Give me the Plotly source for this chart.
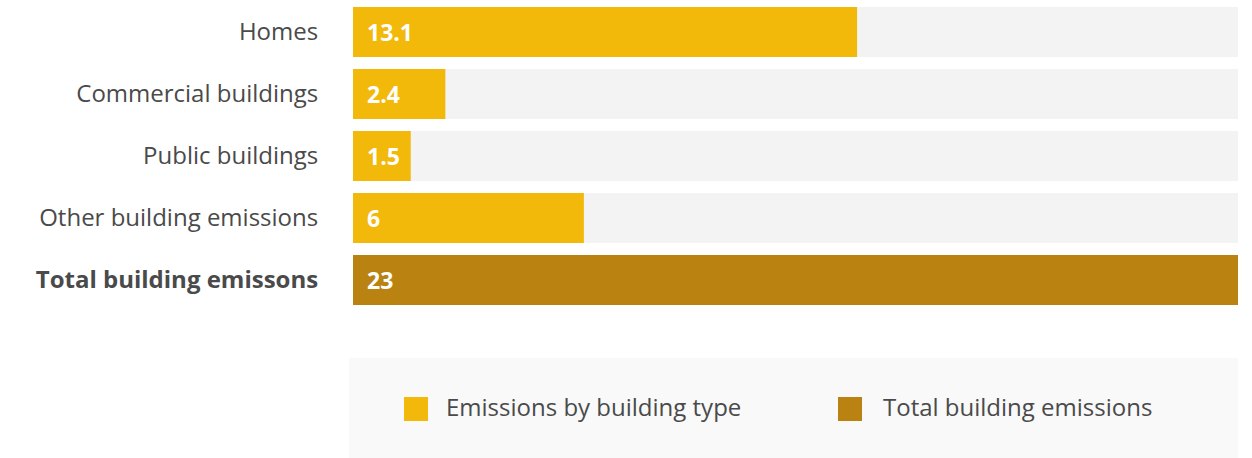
import plotly.graph_objects as go

# Building emissions by type (MtCO2e)
categories = ["Homes", "Commercial buildings", "Public buildings",
              "Other building emissions", "Total building emissons"]
values = [13.1, 2.4, 1.5, 6, 23]
is_total = [False, False, False, False, True]
legend_names = ["Emissions by building type", "Total building emissions"]

YELLOW = "#F2B80A"
BROWN = "#B98211"
TRACK = "#F3F3F3"
TEXT = "#4A4A4A"
FONT = "Open Sans"
SIZE = 24

max_val = max(values)
tick_text = [f"<b>{c}</b>" if t else c for c, t in zip(categories, is_total)]

fig = go.Figure()

# Gray track behind every bar
fig.add_trace(go.Bar(
    y=categories, x=[max_val] * len(categories), orientation="h",
    marker=dict(color=TRACK, line=dict(width=0)),
    hoverinfo="skip", showlegend=False,
))

# Value bars
fig.add_trace(go.Bar(
    y=categories, x=values, orientation="h",
    marker=dict(color=[BROWN if t else YELLOW for t in is_total], line=dict(width=0)),
    showlegend=False,
))

# Value labels at the start of each bar
for c, v in zip(categories, values):
    fig.add_annotation(
        x=0, y=c, xref="x", yref="y", text=f"<b>{v:g}</b>",
        showarrow=False, xanchor="left", xshift=12, yshift=0,
        font=dict(family=FONT, size=23, color="white"),
    )

# Legend panel
W, H = 1252, 458
L, R, T, B = 353, 14, 1, 147
pw, ph = W - L - R, H - T - B


def px_x(x):
    return (x - L) / pw


def px_y(y):
    return 1 - (y - T) / ph


fig.add_shape(type="rect", xref="paper", yref="paper",
              x0=px_x(349), x1=px_x(1238), y0=px_y(458), y1=px_y(358),
              fillcolor="#F9F9F9", line=dict(width=0), layer="below")
for name, color, sx, tx in zip(legend_names, [YELLOW, BROWN], [404, 838], [444, 881]):
    fig.add_shape(type="rect", xref="paper", yref="paper",
                  x0=px_x(sx), x1=px_x(sx + 24), y0=px_y(421), y1=px_y(397),
                  fillcolor=color, line=dict(width=0))
    fig.add_annotation(x=px_x(tx), y=px_y(406.5), xref="paper", yref="paper",
                       text=name, showarrow=False, xanchor="left", yanchor="middle",
                       font=dict(family=FONT, size=SIZE, color=TEXT))

fig.update_layout(
    width=W, height=H,
    margin=dict(l=L, r=R, t=T, b=B, pad=0),
    barmode="overlay", bargap=12 / 62,
    paper_bgcolor="white", plot_bgcolor="white",
    showlegend=False,
    font=dict(family=FONT, size=SIZE, color=TEXT),
)
fig.update_xaxes(range=[0, max_val], visible=False, fixedrange=True)
fig.update_yaxes(
    categoryorder="array", categoryarray=categories, autorange="reversed",
    tickmode="array", tickvals=categories, ticktext=tick_text,
    showgrid=False, zeroline=False, showline=False,
    ticks="outside", ticklen=29, tickcolor="rgba(0,0,0,0)",
    tickfont=dict(family=FONT, size=SIZE, color=TEXT), fixedrange=True,
)

fig.write_html("out.html")
